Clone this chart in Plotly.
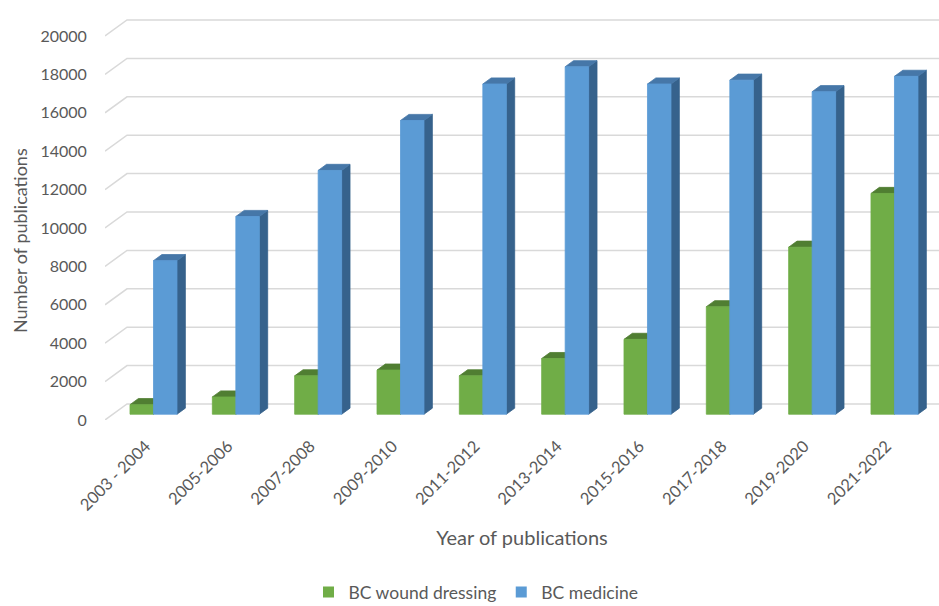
import plotly.graph_objects as go

# ---- data ----
categories = ["2003 - 2004", "2005-2006", "2007-2008", "2009-2010", "2011-2012",
              "2013-2014", "2015-2016", "2017-2018", "2019-2020", "2021-2022"]
wound_dressing = [500, 900, 2000, 2300, 2000, 2900, 3900, 5600, 8700, 11500]
medicine = [8000, 10300, 12700, 15300, 17200, 18100, 17200, 17400, 16800, 17600]
y_ticks = [0, 2000, 4000, 6000, 8000, 10000, 12000, 14000, 16000, 18000, 20000]

# ---- layout geometry ----
W, H = 939, 606
ML, MR, MT, MB = 105, 0, 10, 186
PW, PH = W - ML - MR, H - MT - MB
PX_X = 82.33            # pixels per category unit
PX_Y = 0.0192           # pixels per value unit
X0 = -0.493
X1 = X0 + PW / PX_X
Y0 = 0
Y1 = PH / PX_Y
DX = 22 / PX_X          # full depth offset (data units)
DY = 16 / PX_Y
F0, F1 = 0.36, 0.74     # bar front/back depth fractions
BW = 23.5 / PX_X        # bar width

TEXT = "#595959"
FONT = "Lato"

def shift(x, y, d):
    return x + d * DX, y + d * DY

def faces(values, a, b):
    front_x, front_y, top_x, top_y, side_x, side_y = [], [], [], [], [], []
    for i, v in enumerate(values):
        xa, xb = i + a, i + b
        pts = [shift(xa, 0, F0), shift(xb, 0, F0), shift(xb, v, F0), shift(xa, v, F0), shift(xa, 0, F0)]
        front_x += [p[0] for p in pts] + [None]
        front_y += [p[1] for p in pts] + [None]
        pts = [shift(xa, v, F0), shift(xb, v, F0), shift(xb, v, F1), shift(xa, v, F1), shift(xa, v, F0)]
        top_x += [p[0] for p in pts] + [None]
        top_y += [p[1] for p in pts] + [None]
        pts = [shift(xb, 0, F0), shift(xb, 0, F1), shift(xb, v, F1), shift(xb, v, F0), shift(xb, 0, F0)]
        side_x += [p[0] for p in pts] + [None]
        side_y += [p[1] for p in pts] + [None]
    return (front_x, front_y), (top_x, top_y), (side_x, side_y)

fig = go.Figure()

# back wall gridlines with left perspective diagonals
gx, gy = [], []
for v in y_ticks:
    gx += [X0, X0 + DX, X1, None]
    gy += [v, v + DY, v + DY, None]
fig.add_trace(go.Scatter(x=gx, y=gy, mode="lines", line=dict(color="#D9D9D9", width=1.5),
                         hoverinfo="skip", showlegend=False, cliponaxis=False))

series = [
    ("BC wound dressing", wound_dressing, -BW, 0, "#70AD47", "#507E32", "#4A7A2C"),
    ("BC medicine", medicine, 0, BW, "#5B9BD5", "#4677A8", "#36628C"),
]
for name, vals, a, b, c_front, c_top, c_side in series:
    front, top, side = faces(vals, a, b)
    for (xs, ys), col in [(side, c_side), (top, c_top), (front, c_front)]:
        fig.add_trace(go.Scatter(x=xs, y=ys, mode="lines", fill="toself", fillcolor=col,
                                 line=dict(color=col, width=0.8), hoverinfo="skip",
                                 showlegend=False, cliponaxis=False))
    fig.add_trace(go.Scatter(x=[None], y=[None], mode="markers", name=name,
                             marker=dict(symbol="square", size=11, color=c_front)))

fig.update_layout(
    width=W, height=H,
    margin=dict(l=ML, r=MR, t=MT, b=MB, autoexpand=False),
    paper_bgcolor="white", plot_bgcolor="white",
    font=dict(family=FONT, color=TEXT, size=16),
    showlegend=True,
    legend=dict(orientation="h", x=(476 - ML) / PW, xanchor="center",
                y=(MT + PH - 592) / PH, yanchor="middle",
                font=dict(size=17.5, color=TEXT), itemwidth=30, tracegroupgap=0),
    xaxis=dict(range=[X0, X1], tickmode="array", tickvals=list(range(len(categories))),
               ticktext=categories, tickangle=-45, showgrid=False, zeroline=False,
               showline=False, ticks="outside", ticklen=9, tickcolor="rgba(0,0,0,0)",
               tickfont=dict(size=16.5, color=TEXT), automargin=False,
               title=dict(text="Year of publications", font=dict(size=20, color=TEXT), standoff=17)),
    yaxis=dict(range=[Y0, Y1], tickmode="array", tickvals=y_ticks,
               ticktext=[str(v) for v in y_ticks], showgrid=False, zeroline=False,
               showline=False, ticks="outside", ticklen=14, tickcolor="rgba(0,0,0,0)",
               tickfont=dict(size=16, color=TEXT), automargin=False),
    annotations=[dict(text="Number of publications", textangle=-90, xref="paper", yref="paper",
                      x=-(ML - 20) / PW, y=(MT + PH - 241) / PH, xanchor="center", yanchor="middle",
                      showarrow=False, font=dict(size=18, color=TEXT, family=FONT))],
)

fig.write_html("out.html")
